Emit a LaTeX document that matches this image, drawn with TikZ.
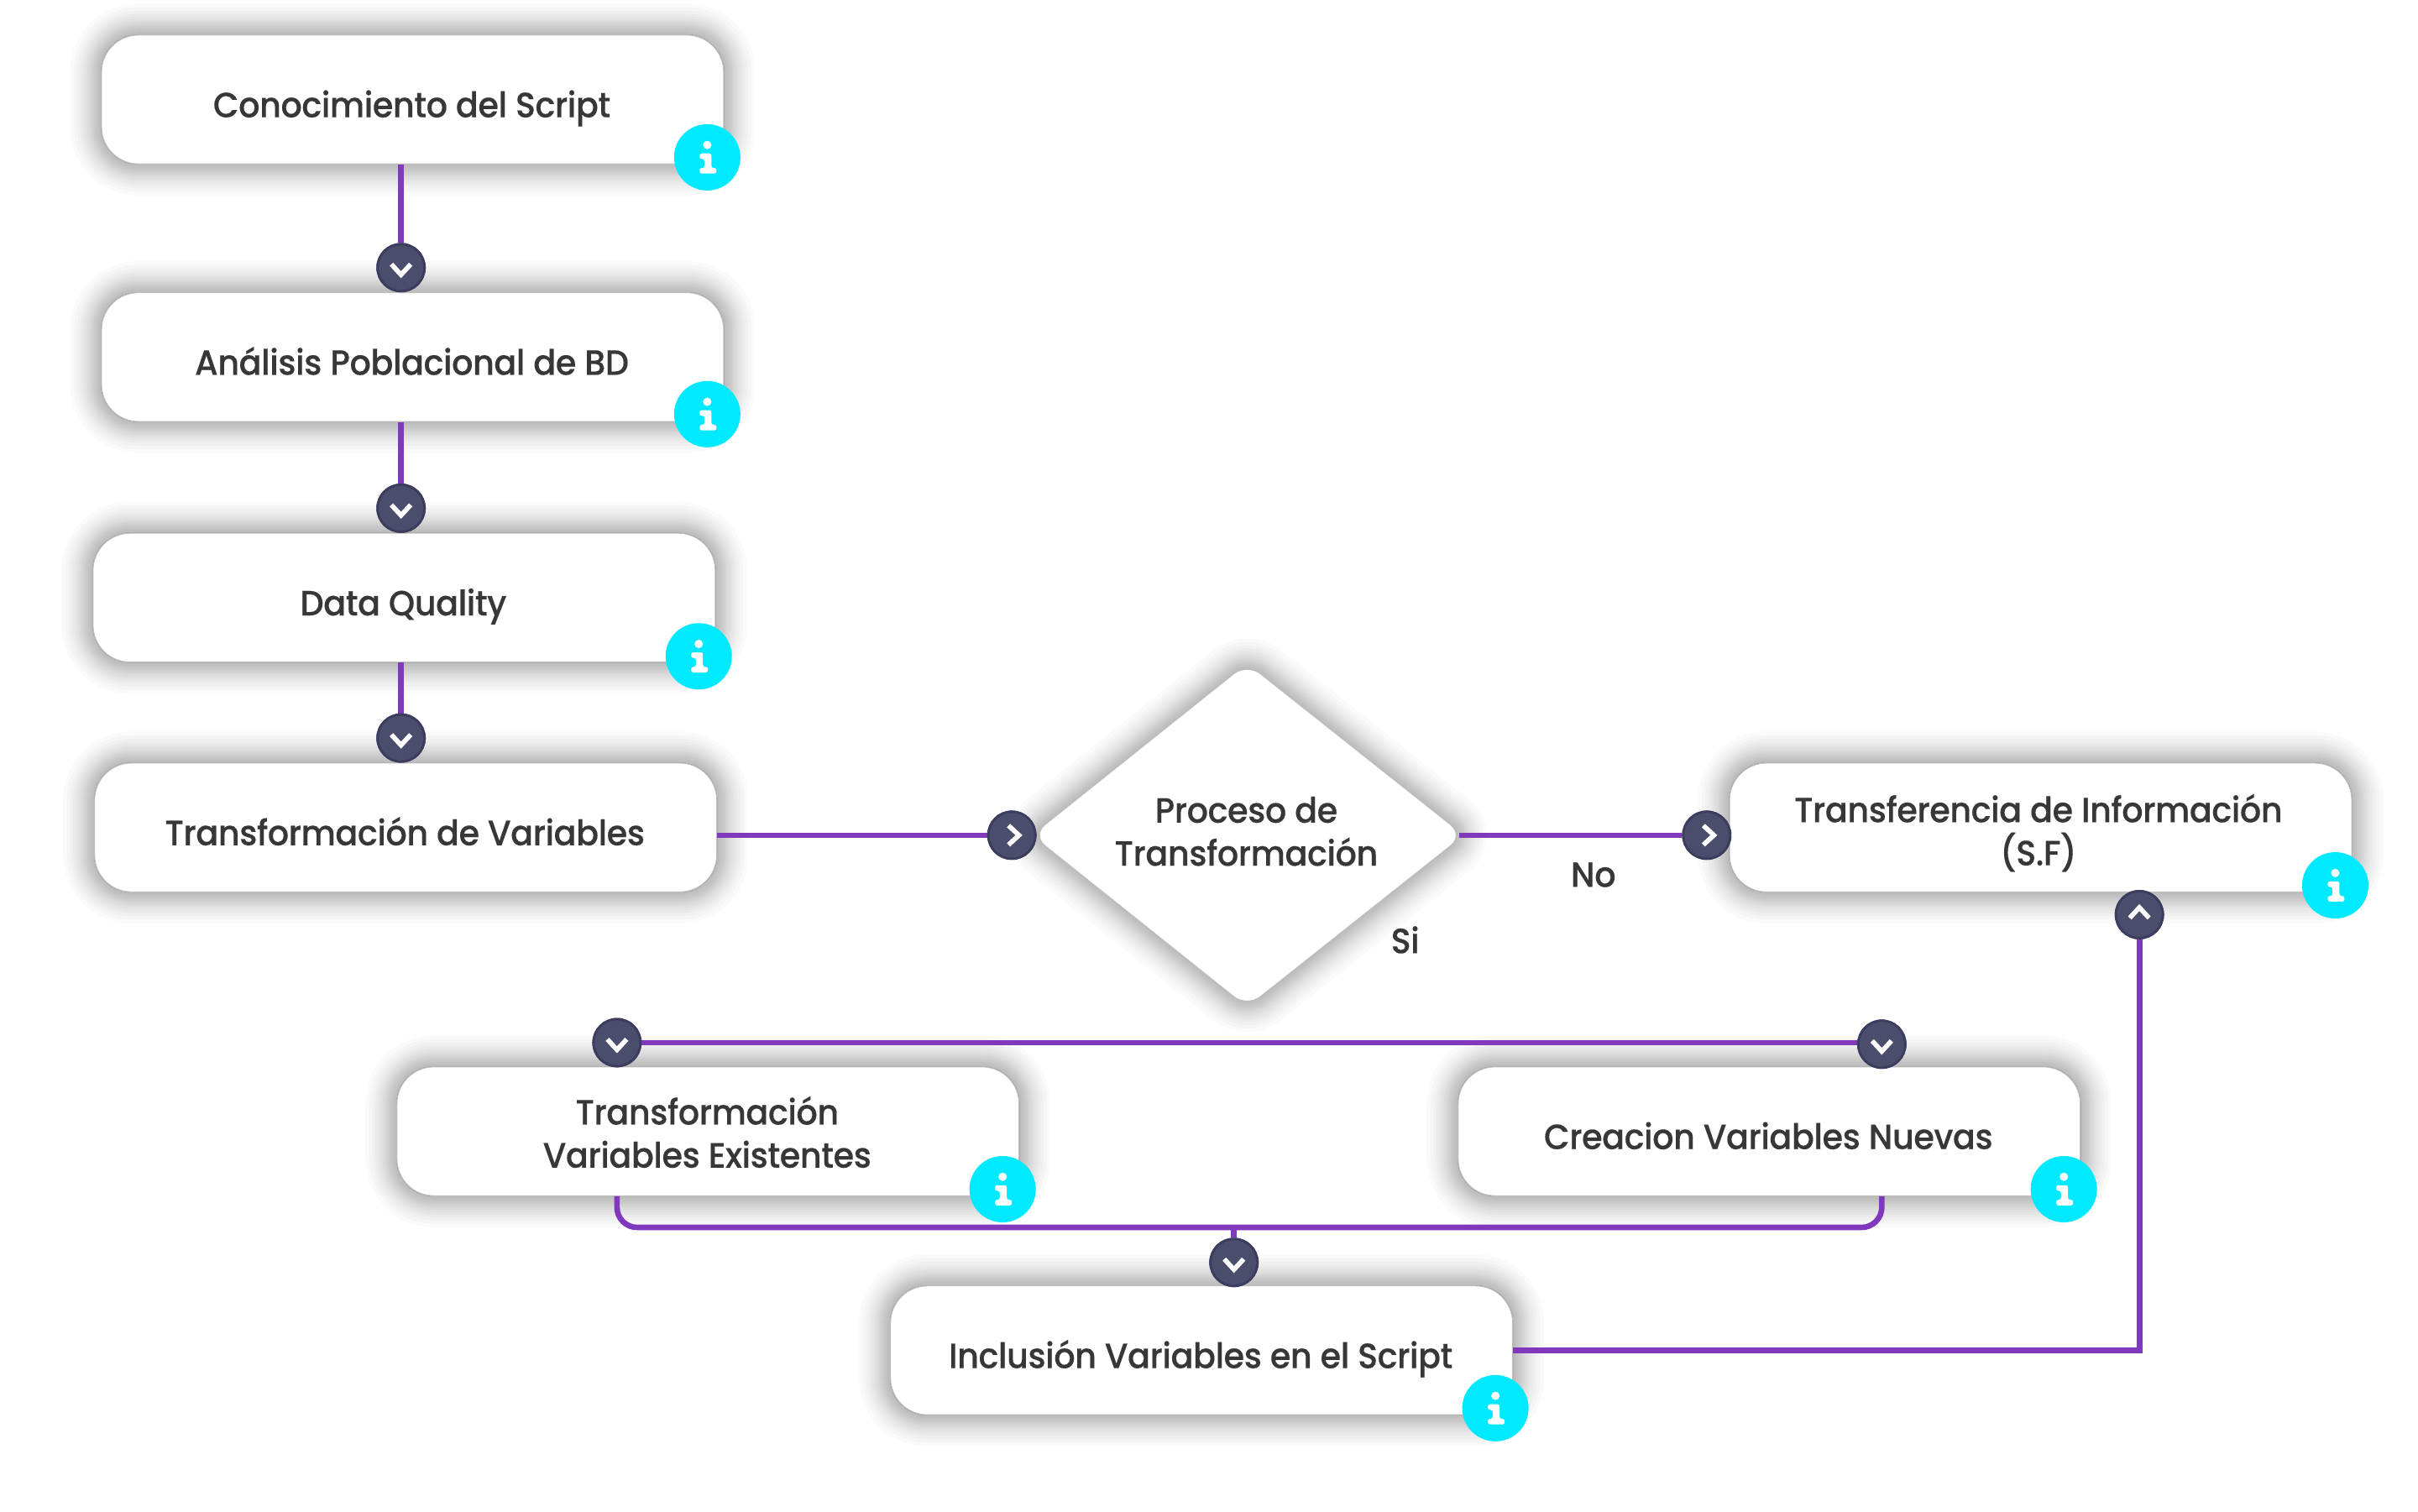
\documentclass[tikz,border=0pt]{standalone}
\usepackage{fontspec}
\setmainfont{Poppins Medium}[FakeStretch=0.95,LetterSpace=-1,FakeBold=0.25]
\usetikzlibrary{backgrounds,calc}
\definecolor{flowpurple}{HTML}{8038BC}
\definecolor{darkdisc}{HTML}{4B4D6C}
\definecolor{darkrim}{HTML}{3B3C5E}
\definecolor{cyandisc}{HTML}{00EAFF}
\definecolor{inktext}{HTML}{373737}
\newcommand{\PX}[2]{({#1*0.018367},{-#2*0.018367})}
\newcommand{\labelfont}{\fontsize{11.9pt}{14.6pt}\selectfont}
\newcommand{\shadewidths}{0.04,0.08,0.12,0.16,0.20,0.24,0.28,0.33,0.38,0.44,0.50,0.57,0.65,0.74}
\tikzset{
  cardbox/.style={draw=black!25,line width=0.3pt,fill=white,rounded corners=0.44cm,minimum width=7.41cm,minimum height=1.535cm,inner sep=0pt},
  plainlabel/.style={inner sep=0pt,text=inktext,align=center,font=\labelfont},
  flow/.style={draw=flowpurple,line width=1.9pt},
  navdisc/.style={circle,fill=darkdisc,draw=darkrim,line width=0.8pt,minimum size=0.56cm,inner sep=0pt},
  infodisc/.style={circle,fill=cyandisc,minimum size=0.79cm,inner sep=0pt},
  chev/.style={draw=white,line width=1.6pt,line cap=butt,line join=miter},
  shadelayer/.style={draw=black,fill=black,draw opacity=0.018,fill opacity=0.018,line join=round},
  corner/.style={coordinate}
}
\newcommand{\chevdown}[1]{\draw[chev] ($(#1)+(-0.115,0.04)$) -- ($(#1)+(0,-0.085)$) -- ($(#1)+(0.115,0.04)$);}
\newcommand{\chevup}[1]{\draw[chev] ($(#1)+(-0.115,-0.04)$) -- ($(#1)+(0,0.085)$) -- ($(#1)+(0.115,-0.04)$);}
\newcommand{\chevright}[1]{\draw[chev] ($(#1)+(-0.04,0.115)$) -- ($(#1)+(0.085,0)$) -- ($(#1)+(-0.04,-0.115)$);}
\newcommand{\infoicon}[1]{%
  \fill[white] ($(#1)+(0,0.147)$) circle (0.05);
  \fill[white,rounded corners=0.025cm] ($(#1)+(-0.09,0.047)$) -- ($(#1)+(0.05,0.047)$) -- ($(#1)+(0.05,-0.127)$) -- ($(#1)+(0.11,-0.127)$) -- ($(#1)+(0.11,-0.193)$) -- ($(#1)+(-0.09,-0.193)$) -- ($(#1)+(-0.09,-0.127)$) -- ($(#1)+(-0.033,-0.127)$) -- ($(#1)+(-0.033,-0.02)$) -- ($(#1)+(-0.09,-0.02)$) -- cycle;
}
\newcommand{\cardshade}[1]{%
  \foreach \o in \shadewidths{%
    \draw[shadelayer,line width=\o cm,rounded corners=0.44cm,yshift=-0.06cm] (#1.south west) rectangle (#1.north east);}%
}
\begin{document}
\begin{tikzpicture}[x=1cm,y=1cm]
\useasboundingbox (0,0) rectangle (28.8,-18);
% cards
\node[cardbox] (b1) at \PX{267.5}{64.5} {};
\node[cardbox] (b2) at \PX{267.5}{231.5} {};
\node[cardbox] (b3) at \PX{262}{387.5} {};
\node[cardbox] (b4) at \PX{263}{536.5} {};
\node[cardbox] (b5) at \PX{1323}{536.5} {};
\node[cardbox] (b6) at \PX{459}{733.5} {};
\node[cardbox] (b7) at \PX{1147}{733.5} {};
\node[cardbox] (b8) at \PX{779}{875.5} {};
% decision diamond
\node[corner] (dN) at \PX{808.5}{430} {};
\node[corner] (dE) at \PX{949}{541.5} {};
\node[corner] (dS) at \PX{808.5}{653} {};
\node[corner] (dW) at \PX{669}{541.5} {};
\draw[draw=black!25,line width=0.3pt,fill=white,rounded corners=0.2cm] (dN) -- (dE) -- (dS) -- (dW) -- cycle;
% shadows and page
\begin{scope}[on background layer]
\fill[white] (0,0) rectangle (28.8,-18);
\cardshade{b1}\cardshade{b2}\cardshade{b3}\cardshade{b4}\cardshade{b5}\cardshade{b6}\cardshade{b7}\cardshade{b8}
\foreach \o in \shadewidths{%
  \draw[shadelayer,line width=\o cm,rounded corners=0.2cm,yshift=-0.06cm] (dN) -- (dE) -- (dS) -- (dW) -- cycle;}
\end{scope}
% texts
\node[plainlabel,anchor=base] (t1) at \PX{267}{76} {Conocimiento del Script};
\node[plainlabel,anchor=base] (t2) at \PX{267}{243} {Análisis Poblacional de BD};
\node[plainlabel,anchor=base] (t3) at \PX{261.5}{399} {Data Quality};
\node[plainlabel,anchor=base] (t4) at \PX{262.5}{548} {Transformación de Variables};
\node[plainlabel] (t5) at \PX{808}{539} {Proceso de\\Transformación};
\node[plainlabel] (t6) at \PX{1321.5}{540} {Transferencia de Información\\(S.F)};
\node[plainlabel] (t7) at \PX{458.5}{734} {Transformación\\Variables Existentes};
\node[plainlabel,anchor=base] (t8) at \PX{1146.5}{745} {Creacion Variables Nuevas};
\node[plainlabel,anchor=base] (t9) at \PX{778.5}{887} {Inclusión Variables en el Script};
\node[plainlabel,anchor=base] (lno) at \PX{1033}{575} {No};
\node[plainlabel,anchor=base] (lsi) at \PX{911}{618} {Si};
% discs
\node[navdisc] (n1) at \PX{260}{173.5} {};
\node[navdisc] (n2) at \PX{260}{329.5} {};
\node[navdisc] (n3) at \PX{260}{478.5} {};
\node[navdisc] (n4) at \PX{656}{541.5} {};
\node[navdisc] (n5) at \PX{1106.5}{541.5} {};
\node[navdisc] (n6) at \PX{1387}{593} {};
\node[navdisc] (n7) at \PX{400}{676} {};
\node[navdisc] (n8) at \PX{1220}{677} {};
\node[navdisc] (n9) at \PX{800}{818.5} {};
% connectors
\draw[flow] (b1.south -| n1) -- (n1);
\draw[flow] (b2.south -| n2) -- (n2);
\draw[flow] (b3.south -| n3) -- (n3);
\draw[flow] (b4.east |- n4) -- (n4);
\draw[flow] ($(dE)+(-0.05,0)$) -- (n5);
\draw[flow] (n7.center) -- (n7.center -| n8);
\node[corner] (join) at (800*0.018367,-14.62) {};
\draw[flow,rounded corners=0.24cm] (b6.south -| n7) -- (n7 |- join) -- (n8 |- join) -- (b7.south -| n8);
\draw[flow] (join) -- (n9);
\draw[flow] (b8.east) -- (b8.east -| n6) -- (n6);
% discs above connectors
\foreach \n in {n1,n2,n3,n4,n5,n6,n7,n8,n9}{\node[navdisc] at (\n) {};}
\chevdown{n1}\chevdown{n2}\chevdown{n3}\chevright{n4}\chevright{n5}\chevup{n6}\chevdown{n7}\chevdown{n8}\chevdown{n9}
% info
\foreach \nm/\x/\y in {i1/458.5/102,i2/458.5/268.5,i3/453/425.5,i4/1514/574,i5/650/771,i6/1338/771,i7/969.5/913}{
  \node[infodisc] (\nm) at \PX{\x}{\y} {};
  \infoicon{\nm}
}
\end{tikzpicture}
\end{document}
